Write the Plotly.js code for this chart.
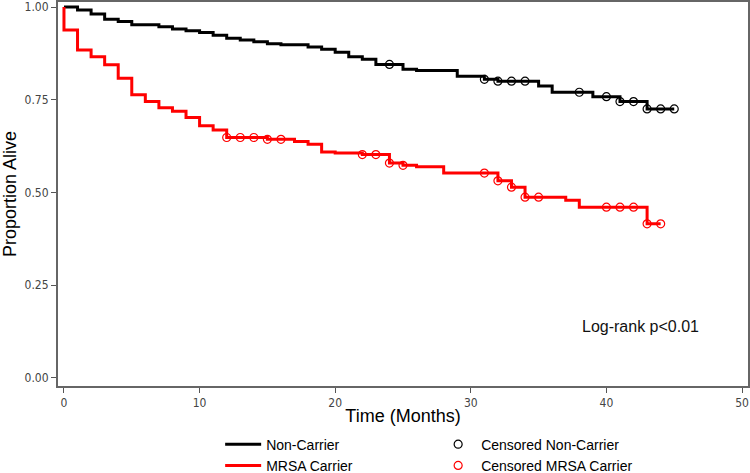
<!DOCTYPE html>
<html>
<head>
<meta charset="utf-8">
<script src="https://cdn.plot.ly/plotly-3.0.1.min.js"></script>
<style>
  body { margin: 0; background: #fff; }
  #chart { width: 750px; height: 473px; }
</style>
</head>
<body>
<div id="chart"></div>
<script>
// Kaplan-Meier steps (months, proportion alive)
var nonCarrierTime = [0, 1, 2, 3, 4, 5, 7, 8, 9, 10, 11, 12, 13, 14, 15, 16, 18, 19, 20, 21, 22, 23, 25, 26, 29, 31, 32, 35, 36, 39, 41, 43, 45];
var nonCarrierSurv = [1.000, 0.992, 0.981, 0.967, 0.961, 0.952, 0.947, 0.941, 0.936, 0.931, 0.924, 0.916, 0.911, 0.906, 0.901, 0.898, 0.892, 0.886, 0.878, 0.866, 0.859, 0.845, 0.832, 0.829, 0.813, 0.805, 0.800, 0.787, 0.770, 0.758, 0.745, 0.725, 0.725];

var mrsaTime = [0, 0, 1, 2, 3, 4, 5, 6, 7, 8, 9, 10, 11, 12, 15, 17, 18, 19, 20, 22, 24, 25, 26, 28, 32, 33, 34, 37, 38, 43, 44];
var mrsaSurv = [1.000, 0.938, 0.884, 0.866, 0.844, 0.808, 0.763, 0.745, 0.728, 0.719, 0.702, 0.680, 0.668, 0.648, 0.643, 0.637, 0.630, 0.609, 0.606, 0.602, 0.579, 0.573, 0.569, 0.552, 0.531, 0.514, 0.487, 0.479, 0.460, 0.415, 0.415];

// censored observations
var nonCarrierCensTime = [24, 31, 32, 33, 34, 38, 40, 41, 42, 43, 44, 45];
var nonCarrierCensSurv = [0.845, 0.805, 0.800, 0.800, 0.800, 0.770, 0.758, 0.745, 0.745, 0.725, 0.725, 0.725];

var mrsaCensTime = [12, 13, 14, 15, 16, 22, 23, 24, 25, 31, 32, 33, 34, 35, 40, 41, 42, 43, 44];
var mrsaCensSurv = [0.648, 0.648, 0.648, 0.643, 0.643, 0.602, 0.602, 0.579, 0.573, 0.552, 0.531, 0.514, 0.487, 0.487, 0.460, 0.460, 0.460, 0.415, 0.415];

var xTicks = [0, 10, 20, 30, 40, 50];
var yTicks = [0, 0.25, 0.5, 0.75, 1];

var tickFont = {family: 'Liberation Sans Narrow, Arial Narrow, DejaVu Sans Condensed, sans-serif', size: 12, color: '#444'};
var textFont = 'Liberation Sans, Arial, sans-serif';

var data = [
  {
    x: nonCarrierTime, y: nonCarrierSurv,
    type: 'scatter', mode: 'lines', name: 'Non-Carrier', legendgroup: 'curves',
    line: {color: '#000000', width: 3, shape: 'hv'}
  },
  {
    x: nonCarrierCensTime, y: nonCarrierCensSurv,
    type: 'scatter', mode: 'markers', name: 'Censored Non-Carrier', legendgroup: 'censored',
    marker: {symbol: 'circle-open', size: 8, color: '#000000', line: {width: 1.2}}
  },
  {
    x: mrsaTime, y: mrsaSurv,
    type: 'scatter', mode: 'lines', name: 'MRSA Carrier', legendgroup: 'curves',
    line: {color: '#ff0000', width: 3, shape: 'hv'}
  },
  {
    x: mrsaCensTime, y: mrsaCensSurv,
    type: 'scatter', mode: 'markers', name: 'Censored MRSA Carrier', legendgroup: 'censored',
    marker: {symbol: 'circle-open', size: 8, color: '#ff0000', line: {width: 1.2}}
  }
];

var layout = {
  width: 750, height: 473,
  margin: {l: 58, r: 2, t: 2, b: 87, autoexpand: false},
  paper_bgcolor: '#ffffff',
  plot_bgcolor: '#ffffff',
  showlegend: true,
  legend: {
    orientation: 'h',
    x: 0.235, xanchor: 'left',
    y: -0.111, yanchor: 'top',
    entrywidth: 164, entrywidthmode: 'pixels',
    itemwidth: 36,
    font: {family: textFont, size: 14, color: '#000'}
  },
  xaxis: {
    range: [-0.44, 50.44],
    tickvals: xTicks,
    ticks: 'outside', ticklen: 5, tickwidth: 1, tickcolor: '#555',
    showline: true, mirror: true, linecolor: '#666', linewidth: 2,
    showgrid: false, zeroline: false,
    tickfont: tickFont,
    title: {text: 'Time (Months)', font: {family: textFont, size: 18, color: '#000'}, standoff: 0}
  },
  yaxis: {
    range: [-0.0224, 1.0135],
    tickvals: yTicks,
    tickformat: '.2f',
    ticks: 'outside', ticklen: 5, tickwidth: 1, tickcolor: '#555',
    showline: true, mirror: true, linecolor: '#666', linewidth: 2,
    showgrid: false, zeroline: false,
    tickfont: tickFont,
    title: {text: 'Proportion Alive', font: {family: textFont, size: 18, color: '#000'}, standoff: 7}
  },
  annotations: [
    {
      x: 42.5, y: 0.137, xref: 'x', yref: 'y',
      text: 'Log-rank p<0.01', showarrow: false,
      font: {family: textFont, size: 16, color: '#111'}
    }
  ]
};

Plotly.newPlot('chart', data, layout, {displayModeBar: false, staticPlot: true});
</script>
</body>
</html>
